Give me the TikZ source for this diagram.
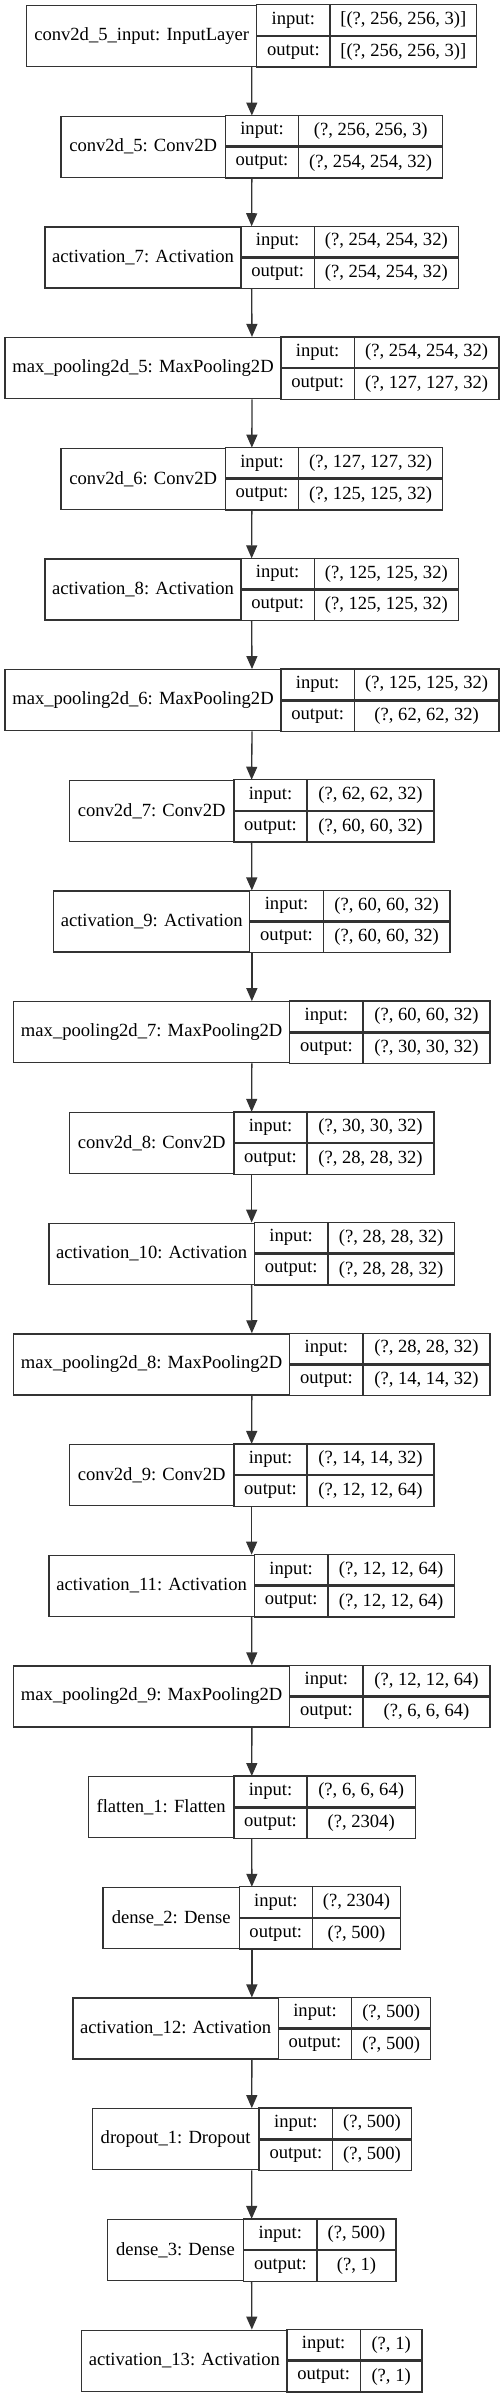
\documentclass[tikz,border=0pt]{standalone}
\usepackage{fontspec}
\setmainfont{Liberation Serif}
\usetikzlibrary{arrows.meta}

\tikzset{
  cell/.style={draw=black!80, line width=1.33bp, inner sep=0pt,
    font=\fontsize{18.6bp}{22bp}\selectfont},
  link/.style={draw=black!80, line width=1.33bp,
    -{Triangle[length=13bp,width=11bp]}},
}

% #1 index, #2..#5 column edges, #6 layer, #7 input shape, #8 output shape
\newcommand{\layerbox}[8]{%
  \pgfmathsetmacro\ltop{5.5+110.7*#1}%
  \pgfmathsetmacro\lmid{\ltop+30.5}%
  \node[cell, draw=none, minimum width={(#5-#2)*1bp}, minimum height=61bp] (l#1) at ({(#2+#5)/2},\lmid) {};
  \node[cell, minimum width={(#3-#2)*1bp}, minimum height=61bp] (l#1name) at ({(#2+#3)/2},\lmid) {#6};
  \node[cell, minimum width={(#4-#3)*1bp}, minimum height=30.5bp, anchor=south] (l#1inlab) at ({(#3+#4)/2},\lmid) {input:};
  \node[cell, minimum width={(#4-#3)*1bp}, minimum height=30.5bp, anchor=north] (l#1outlab) at ({(#3+#4)/2},\lmid) {output:};
  \node[cell, minimum width={(#5-#4)*1bp}, minimum height=30.5bp, anchor=south] (l#1in) at ({(#4+#5)/2},\lmid) {#7};
  \node[cell, minimum width={(#5-#4)*1bp}, minimum height=30.5bp, anchor=north] (l#1out) at ({(#4+#5)/2},\lmid) {#8};
}

\begin{document}
\begin{tikzpicture}[x=1bp, y=-1bp]
  \useasboundingbox (0,0) rectangle (504,2397);
  \layerbox{0}{26.7}{256.7}{330}{476.7}{conv2d\_5\_input: InputLayer}{[(?, 256, 256, 3)]}{[(?, 256, 256, 3)]}
  \layerbox{1}{61}{225.3}{298.7}{442.7}{conv2d\_5: Conv2D}{(?, 256, 256, 3)}{(?, 254, 254, 32)}
  \layerbox{2}{45}{241}{314.3}{458.3}{activation\_7: Activation}{(?, 254, 254, 32)}{(?, 254, 254, 32)}
  \layerbox{3}{5}{281}{354.3}{499}{max\_pooling2d\_5: MaxPooling2D}{(?, 254, 254, 32)}{(?, 127, 127, 32)}
  \layerbox{4}{61}{225.3}{298.7}{442.7}{conv2d\_6: Conv2D}{(?, 127, 127, 32)}{(?, 125, 125, 32)}
  \layerbox{5}{45}{241}{314.3}{458.3}{activation\_8: Activation}{(?, 125, 125, 32)}{(?, 125, 125, 32)}
  \layerbox{6}{5}{281}{354.3}{499}{max\_pooling2d\_6: MaxPooling2D}{(?, 125, 125, 32)}{(?, 62, 62, 32)}
  \layerbox{7}{69.3}{234}{307}{434}{conv2d\_7: Conv2D}{(?, 62, 62, 32)}{(?, 60, 60, 32)}
  \layerbox{8}{53.7}{249.7}{323.3}{450}{activation\_9: Activation}{(?, 60, 60, 32)}{(?, 60, 60, 32)}
  \layerbox{9}{13.7}{289.7}{363}{490}{max\_pooling2d\_7: MaxPooling2D}{(?, 60, 60, 32)}{(?, 30, 30, 32)}
  \layerbox{10}{69.3}{234}{307}{434}{conv2d\_8: Conv2D}{(?, 30, 30, 32)}{(?, 28, 28, 32)}
  \layerbox{11}{49}{254.3}{328}{454.3}{activation\_10: Activation}{(?, 28, 28, 32)}{(?, 28, 28, 32)}
  \layerbox{12}{13.7}{289.7}{363}{490}{max\_pooling2d\_8: MaxPooling2D}{(?, 28, 28, 32)}{(?, 14, 14, 32)}
  \layerbox{13}{69.3}{234}{307}{434}{conv2d\_9: Conv2D}{(?, 14, 14, 32)}{(?, 12, 12, 64)}
  \layerbox{14}{49}{254.3}{328}{454.3}{activation\_11: Activation}{(?, 12, 12, 64)}{(?, 12, 12, 64)}
  \layerbox{15}{13.7}{289.7}{363}{490}{max\_pooling2d\_9: MaxPooling2D}{(?, 12, 12, 64)}{(?, 6, 6, 64)}
  \layerbox{16}{88.3}{234}{307}{415.3}{flatten\_1: Flatten}{(?, 6, 6, 64)}{(?, 2304)}
  \layerbox{17}{103}{239.3}{312.3}{400.7}{dense\_2: Dense}{(?, 2304)}{(?, 500)}
  \layerbox{18}{73}{278.3}{351.7}{430.7}{activation\_12: Activation}{(?, 500)}{(?, 500)}
  \layerbox{19}{92.3}{259}{332.7}{411.3}{dropout\_1: Dropout}{(?, 500)}{(?, 500)}
  \layerbox{20}{107.3}{243.7}{317}{396}{dense\_3: Dense}{(?, 500)}{(?, 1)}
  \layerbox{21}{81.7}{287}{360.3}{422}{activation\_13: Activation}{(?, 1)}{(?, 1)}
  % layer to layer
  \foreach \i [evaluate=\i as \j using int(\i+1)] in {0,...,20}
    \draw[link] (l\i.south) -- (l\j.north);
\end{tikzpicture}
\end{document}
